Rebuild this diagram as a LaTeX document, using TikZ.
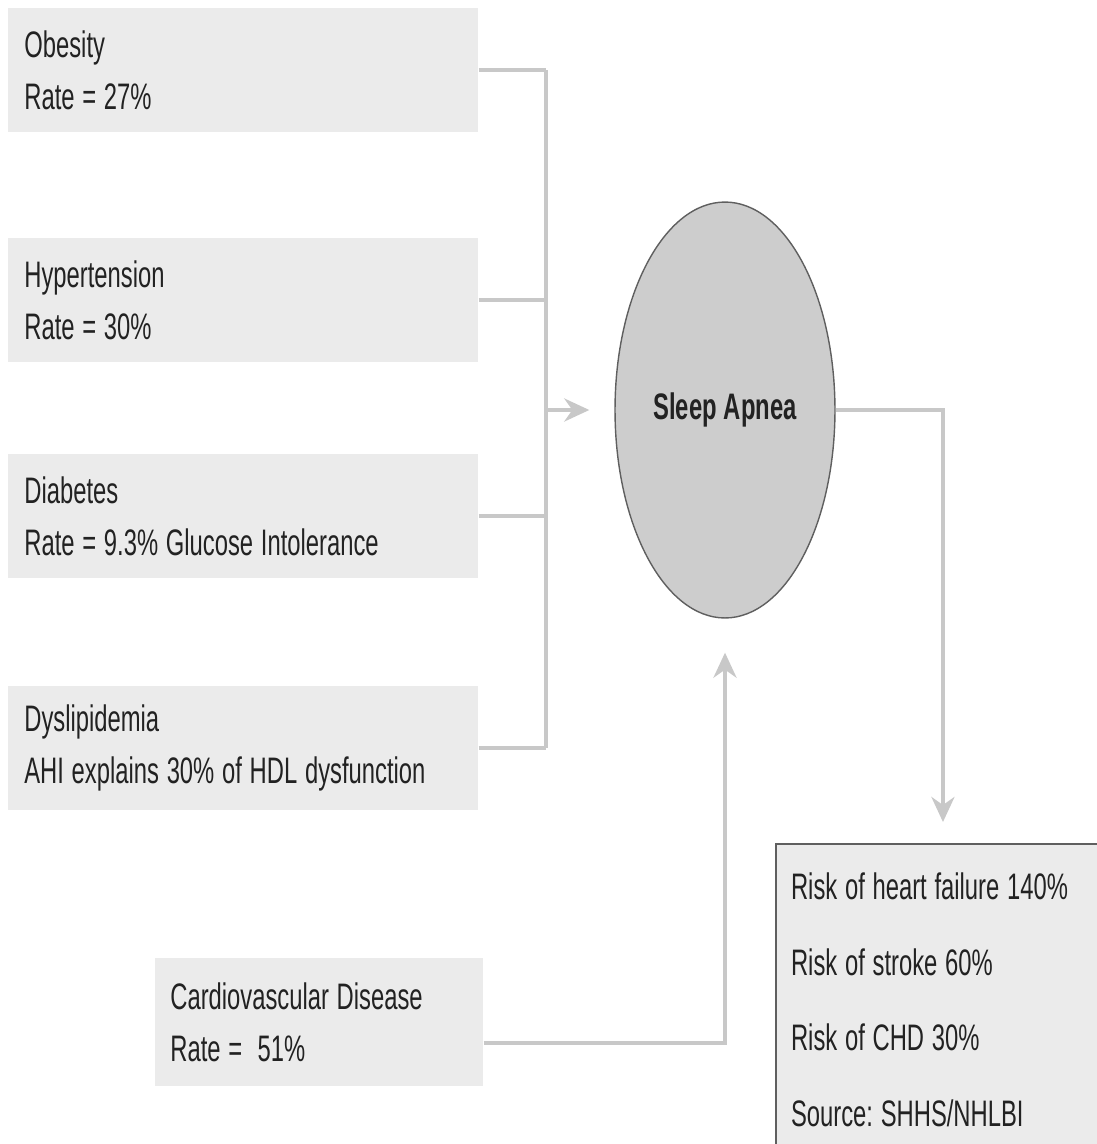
\documentclass[tikz,border=0pt]{standalone}
\usepackage{fontspec}
\setmainfont{Liberation Sans}[FakeStretch=0.645]
\usetikzlibrary{shapes.geometric, arrows.meta, positioning}
\definecolor{boxfill}{RGB}{235, 235, 235}
\definecolor{linkgray}{RGB}{200, 200, 200}
\definecolor{apneagray}{RGB}{205, 205, 205}
\definecolor{rimgray}{RGB}{95, 95, 95}
\definecolor{inkgray}{RGB}{34, 34, 34}
% narrow interword space to go with the squeezed letters
\newcommand\labelfont[1]{\fontsize{21}{#1}\selectfont}
\newcommand\titlefont{\bfseries\fontsize{21}{25}\selectfont\fontdimen2\font=4pt\relax}

\tikzset{
  factor/.style={rectangle, fill=boxfill, anchor=north west, text=inkgray,
    text width=8.76cm, inner xsep=0.32cm, inner ysep=0pt, minimum height=2.48cm,
    align=left, font=\labelfont{29.6},
    execute at begin node={\frenchspacing\spaceskip=4.4pt\xspaceskip=4.4pt\relax}},
  link/.style={draw=linkgray, line width=2.3pt},
  arrow/.style={link, -{Stealth[length=0.5cm, width=0.46cm, inset=0.16cm]}}
}

\begin{document}
\begin{tikzpicture}[x=0.02cm, y=-0.02cm]
  \useasboundingbox (0,0) rectangle (1097,1144);
  \clip (0,0) rectangle (1097,1144);
  % risk factors
  \node[factor] (obesity) at (8,8) {Obesity\\Rate = 27\%};
  \node[factor] (hyper) at (8,238) {Hypertension\\Rate = 30\%};
  \node[factor] (diab) at (8,454) {Diabetes\\Rate = 9.3\% Glucose Intolerance};
  \node[factor] (dysl) at (8,686) {Dyslipidemia\\AHI explains 30\% of HDL dysfunction};
  \node[factor, text width=5.96cm, inner xsep=0.3cm, minimum height=2.56cm] (cvd) at (155,958) {Cardiovascular Disease\\Rate =\ \ 51\%};
  % centre
  \node[ellipse, draw=rimgray, fill=apneagray, line width=0.8pt,
    minimum width=4.4cm, minimum height=8.32cm, text=inkgray,
    font=\titlefont] (apnea) at (725,410) {Sleep Apnea};
  % outcomes
  \node[factor, draw=rimgray, line width=1.2pt, text width=6.6cm, inner xsep=0.3cm,
    minimum height=6.24cm, font=\labelfont{43}] (risk) at (775,843)
    {Risk of heart failure 140\%\\Risk of stroke 60\%\\Risk of CHD 30\%\\Source: SHHS/NHLBI};
  \coordinate (riskin) at ([xshift=3.36cm]risk.north west);

  \coordinate (bus) at (546,0);
  \foreach \f in {obesity, hyper, diab, dysl}
    \draw[link] (\f.east) -- (\f.east -| bus);
  \draw[link] (obesity.east -| bus) -- (dysl.east -| bus);
  \draw[arrow] (bus |- apnea.west) -- ([xshift=-0.5cm]apnea.west);
  \draw[arrow, shorten >=0.42cm] (apnea.east) -| (riskin);
  \draw[arrow, shorten >=0.68cm] ([yshift=-0.42cm]cvd.east) -| (apnea.south);
\end{tikzpicture}
\end{document}
